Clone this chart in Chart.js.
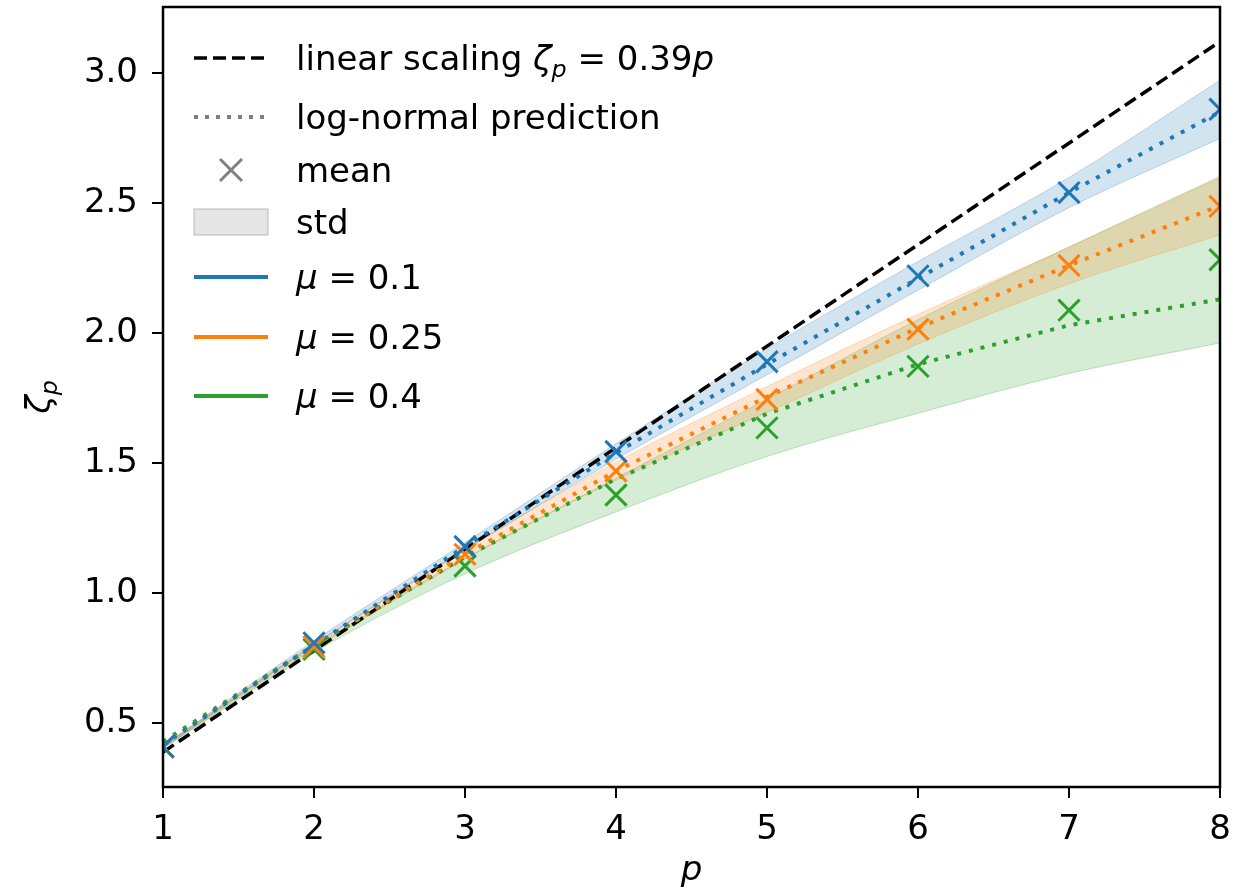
<!DOCTYPE html>
<html>
<head>
<meta charset="utf-8">
<script src="https://cdn.jsdelivr.net/npm/chart.js@4.4.1/dist/chart.umd.min.js"></script>
<style>
  html, body { margin: 0; padding: 0; background: #fff; }
  #chart { display: block; }
</style>
</head>
<body>
<canvas id="chart" width="1241" height="896"></canvas>
<script>
// order p
const pValues = [1, 2, 3, 4, 5, 6, 7, 8];

// linear scaling zeta_p = 0.39 p (end points)
const linearP    = [1, 8];
const linearZeta = [0.39, 3.12];

// measured mean zeta_p
const meanMu01  = [0.41, 0.81, 1.18, 1.545, 1.89, 2.22, 2.54, 2.86];
const meanMu025 = [0.41, 0.795, 1.15, 1.47, 1.745, 2.015, 2.26, 2.487];
const meanMu04  = [0.41, 0.785, 1.105, 1.378, 1.636, 1.872, 2.088, 2.282];

// std of zeta_p
const stdMu01  = [0.005, 0.008, 0.015, 0.03, 0.05, 0.055, 0.058, 0.112];
const stdMu025 = [0.005, 0.01, 0.02, 0.035, 0.05, 0.057, 0.07, 0.11];
const stdMu04  = [0.005, 0.012, 0.03, 0.065, 0.11, 0.18, 0.243, 0.32];

// log-normal prediction
const predMu01  = [0.42, 0.80, 1.18, 1.54, 1.88, 2.21, 2.54, 2.85];
const predMu025 = [0.42, 0.80, 1.15, 1.47, 1.755, 2.02, 2.26, 2.49];
const predMu04  = [0.43, 0.80, 1.14, 1.44, 1.69, 1.88, 2.03, 2.13];

const yTicks = [0.5, 1.0, 1.5, 2.0, 2.5, 3.0];

const BLUE = "#1f77b4", ORANGE = "#ff7f0e", GREEN = "#2ca02c";
const FONT = '"DejaVu Sans", sans-serif';
const FS = 34;

function pts(xs, ys) { return xs.map((x, i) => ({ x: x, y: ys[i] })); }
function rgba(hex, a) {
  const n = parseInt(hex.slice(1), 16);
  return `rgba(${n >> 16},${(n >> 8) & 255},${n & 255},${a})`;
}

// band datasets: lower then upper (filled to lower)
function band(mean, std, color, lowerIdx) {
  return [
    { data: pts(pValues, mean.map((m, i) => m - std[i])), showLine: true,
      borderColor: rgba(color, 0.25), borderWidth: 1, pointRadius: 0,
      fill: false, cubicInterpolationMode: "monotone", order: 5 },
    { data: pts(pValues, mean.map((m, i) => m + std[i])), showLine: true,
      borderColor: rgba(color, 0.25), borderWidth: 1, pointRadius: 0,
      backgroundColor: rgba(color, 0.2), fill: lowerIdx,
      cubicInterpolationMode: "monotone", order: 5 }
  ];
}
function pred(vals, color) {
  return { data: pts(pValues, vals), showLine: true, borderColor: color,
    borderWidth: 4, borderDash: [4, 8], pointRadius: 0, fill: false, order: 2 };
}
function marks(vals, color) {
  return { data: pts(pValues, vals), showLine: false, pointStyle: "crossRot",
    pointRadius: 15, pointBorderWidth: 3, borderColor: color,
    backgroundColor: color, order: 1 };
}

const datasets = [
  ...band(meanMu01, stdMu01, BLUE, 0),
  ...band(meanMu025, stdMu025, ORANGE, 2),
  ...band(meanMu04, stdMu04, GREEN, 4),
  { data: pts(linearP, linearZeta), showLine: true, borderColor: "#000",
    borderWidth: 3.5, borderDash: [13, 6], pointRadius: 0, fill: false, order: 3 },
  pred(predMu01, BLUE), pred(predMu025, ORANGE), pred(predMu04, GREEN),
  marks(meanMu01, BLUE), marks(meanMu025, ORANGE), marks(meanMu04, GREEN)
];

// text with italic / subscript runs, y = baseline
function runsWidth(ctx, runs, size) {
  let w = 0;
  runs.forEach(r => {
    ctx.font = (r.it ? "italic " : "") + (r.sub ? size * 0.7 : size) + "px " + FONT;
    w += ctx.measureText(r.t).width;
  });
  return w;
}
function drawRuns(ctx, runs, x, y, size) {
  ctx.textBaseline = "alphabetic";
  ctx.textAlign = "left";
  runs.forEach(r => {
    ctx.font = (r.it ? "italic " : "") + (r.sub ? size * 0.7 : size) + "px " + FONT;
    ctx.fillText(r.t, x, y + (r.sub ? size * 0.2 : 0));
    x += ctx.measureText(r.t).width;
  });
}

const legendRows = [
  { y: 58, kind: "dash", color: "#000",
    label: [{ t: "linear scaling " }, { t: "ζ", it: 1 }, { t: "p", it: 1, sub: 1 }, { t: " = 0.39" }, { t: "p", it: 1 }] },
  { y: 117, kind: "dot", color: "#808080", label: [{ t: "log-normal prediction" }] },
  { y: 170, kind: "x", color: "#808080", label: [{ t: "mean" }] },
  { y: 222, kind: "patch", color: "#808080", label: [{ t: "std" }] },
  { y: 277, kind: "line", color: BLUE, label: [{ t: "μ", it: 1 }, { t: " = 0.1" }] },
  { y: 337, kind: "line", color: ORANGE, label: [{ t: "μ", it: 1 }, { t: " = 0.25" }] },
  { y: 396, kind: "line", color: GREEN, label: [{ t: "μ", it: 1 }, { t: " = 0.4" }] }
];

const decor = {
  id: "decor",
  afterDraw(chart) {
    const ctx = chart.ctx, a = chart.chartArea;
    ctx.save();
    // frame
    ctx.strokeStyle = "#000";
    ctx.lineWidth = 2.5;
    ctx.setLineDash([]);
    ctx.strokeRect(a.left, a.top, a.right - a.left, a.bottom - a.top);

    // legend
    const x0 = 194, x1 = 268, tx = 296;
    legendRows.forEach(r => {
      ctx.save();
      ctx.strokeStyle = r.color;
      if (r.kind === "dash" || r.kind === "dot" || r.kind === "line") {
        ctx.lineWidth = r.kind === "dash" ? 3.5 : 4;
        ctx.setLineDash(r.kind === "dash" ? [13, 6] : r.kind === "dot" ? [4, 7] : []);
        ctx.beginPath(); ctx.moveTo(x0, r.y); ctx.lineTo(x1, r.y); ctx.stroke();
      } else if (r.kind === "x") {
        const c = (x0 + x1) / 2, s = 11;
        ctx.lineWidth = 3;
        ctx.beginPath();
        ctx.moveTo(c - s, r.y - s); ctx.lineTo(c + s, r.y + s);
        ctx.moveTo(c - s, r.y + s); ctx.lineTo(c + s, r.y - s);
        ctx.stroke();
      } else if (r.kind === "patch") {
        ctx.fillStyle = "rgba(128,128,128,0.2)";
        ctx.strokeStyle = "rgba(128,128,128,0.25)";
        ctx.lineWidth = 2;
        ctx.fillRect(x0, r.y - 13, x1 - x0, 26);
        ctx.strokeRect(x0, r.y - 13, x1 - x0, 26);
      }
      ctx.restore();
      ctx.fillStyle = "#000";
      drawRuns(ctx, r.label, tx, r.y + 12, FS);
    });

    // axis titles
    ctx.fillStyle = "#000";
    const xt = [{ t: "p", it: 1 }];
    drawRuns(ctx, xt, (a.left + a.right) / 2 - runsWidth(ctx, xt, FS) / 2, 880, FS);
    const yt = [{ t: "ζ", it: 1 }, { t: "p", it: 1, sub: 1 }];
    ctx.translate(50, (a.top + a.bottom) / 2);
    ctx.rotate(-Math.PI / 2);
    drawRuns(ctx, yt, -runsWidth(ctx, yt, FS) / 2, 0, FS);
    ctx.restore();
  }
};

new Chart(document.getElementById("chart"), {
  type: "scatter",
  data: { datasets: datasets },
  options: {
    responsive: false,
    animation: false,
    events: [],
    layout: { autoPadding: false, padding: { left: 0, right: 21, top: 7, bottom: 0 } },
    plugins: { legend: { display: false }, tooltip: { enabled: false } },
    scales: {
      x: {
        type: "linear", min: 1, max: 8,
        afterFit: s => { s.height = 109; s.paddingLeft = 0; s.paddingRight = 0; },
        grid: { display: true, drawOnChartArea: false, drawTicks: true,
                tickLength: 11, color: "#000", lineWidth: 2 },
        border: { display: false },
        ticks: { stepSize: 1, padding: 12, color: "#000", maxRotation: 0,
                 font: { family: FONT, size: FS } }
      },
      y: {
        type: "linear", min: 0.256, max: 3.253,
        afterFit: s => { s.width = 163; s.paddingTop = 0; s.paddingBottom = 0; },
        afterBuildTicks: s => { s.ticks = yTicks.map(v => ({ value: v })); },
        grid: { display: true, drawOnChartArea: false, drawTicks: true,
                tickLength: 11, color: "#000", lineWidth: 2 },
        border: { display: false },
        ticks: { padding: 14, color: "#000", callback: v => v.toFixed(1),
                 font: { family: FONT, size: FS } }
      }
    }
  },
  plugins: [decor]
});
</script>
</body>
</html>
